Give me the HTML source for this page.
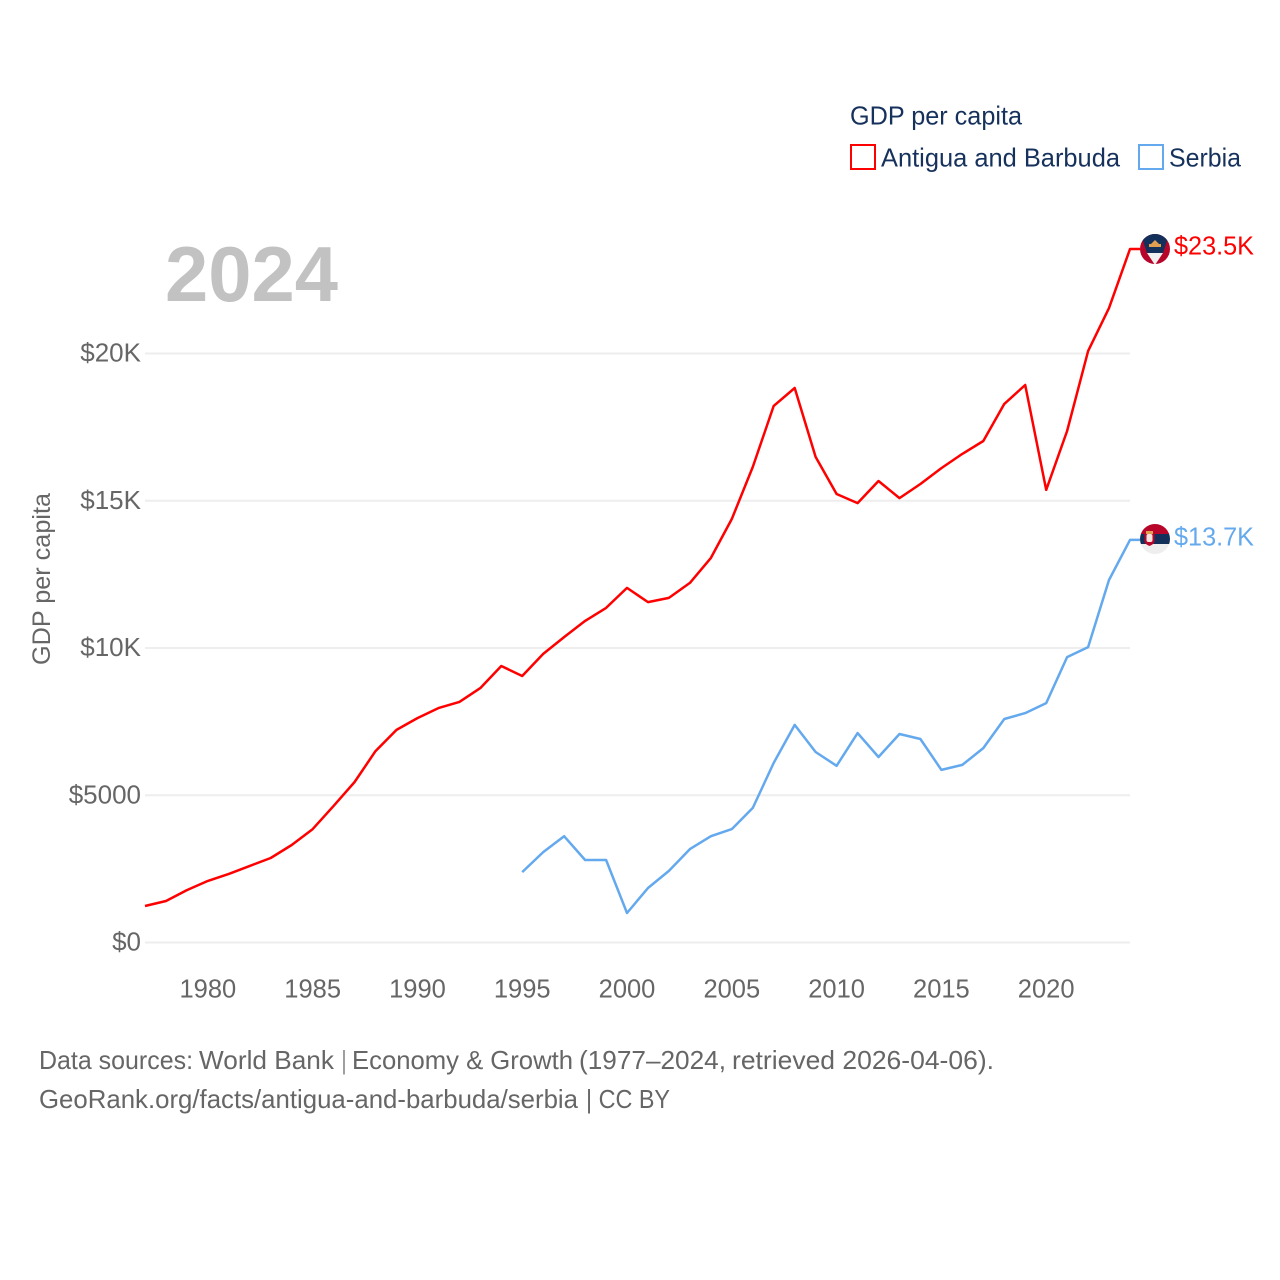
<!DOCTYPE html>
<html lang="en">
<head>
<meta charset="utf-8">
<title>GDP per capita: Antigua and Barbuda vs Serbia</title>
<style>
html,body{margin:0;padding:0;background:#fff;}
svg{display:block;font-family:"Liberation Sans",sans-serif;}
</style>
</head>
<body>
<svg id="chart" width="1280" height="1280" viewBox="0 0 1280 1280" xmlns="http://www.w3.org/2000/svg">
  <defs>
    <clipPath id="flag-clip-a"><circle cx="1155" cy="249" r="15"/></clipPath>
    <clipPath id="flag-clip-b"><circle cx="1155" cy="539" r="15"/></clipPath>
  </defs>
  <g id="grid"></g>
  <g id="yticks"></g>
  <g id="xticks"></g>
  <g id="series"></g>

  <text x="165" y="301" font-size="78" font-weight="700" fill="#c2c2c2" textLength="173" lengthAdjust="spacingAndGlyphs">2024</text>
  <text transform="translate(50,665) rotate(-90)" font-size="25" fill="#666666" textLength="172" lengthAdjust="spacingAndGlyphs">GDP per capita</text>

  <g>
    <text x="850" y="124.500" font-size="26" fill="#16325c" textLength="172" lengthAdjust="spacingAndGlyphs">GDP per capita</text>
    <rect x="851" y="145" width="24" height="24" fill="none" stroke="#ff0000" stroke-width="2"/>
    <text x="881" y="166.500" font-size="26" fill="#16325c" textLength="239" lengthAdjust="spacingAndGlyphs">Antigua and Barbuda</text>
    <rect x="1139" y="145" width="24" height="24" fill="none" stroke="#64a9ee" stroke-width="2"/>
    <text x="1169" y="166.500" font-size="26" fill="#16325c" textLength="72" lengthAdjust="spacingAndGlyphs">Serbia</text>
  </g>

  <g clip-path="url(#flag-clip-a)">
    <rect x="1140" y="234" width="30" height="30" fill="#b8062a"/>
    <polygon points="1140,232 1170,232 1163,253 1147,253" fill="#12305a"/>
    <polygon points="1147,253 1163,253 1155,265" fill="#f0f0f0"/>
    <rect x="1149" y="244" width="12" height="3" fill="#e0a050"/>
    <polygon points="1151,244 1155,240 1159,244" fill="#e0a050"/>
  </g>
  <g clip-path="url(#flag-clip-b)">
    <rect x="1140" y="524" width="30" height="10" fill="#b8062a"/>
    <rect x="1140" y="534" width="30" height="10" fill="#12305a"/>
    <rect x="1140" y="544" width="30" height="10" fill="#eeeeee"/>
    <path d="M1144.500,534 h10 v7 q0,3 -5,5 q-5,-2 -5,-5 z" fill="#b8062a"/>
    <rect x="1146.500" y="534" width="6" height="8" rx="2" fill="#f3e6df"/>
    <rect x="1146" y="531" width="7" height="3" fill="#e0a050"/>
  </g>

  <text x="1174" y="254.500" font-size="26" fill="#ff0000" textLength="80" lengthAdjust="spacingAndGlyphs">$23.5K</text>
  <text x="1174" y="545.500" font-size="26" fill="#64a9ee" textLength="80" lengthAdjust="spacingAndGlyphs">$13.7K</text>

  <text y="1069" font-size="26" fill="#666666"><tspan x="39" textLength="154" lengthAdjust="spacingAndGlyphs">Data sources:</tspan> <tspan x="199" textLength="135" lengthAdjust="spacingAndGlyphs">World Bank</tspan> <tspan x="342" textLength="4" lengthAdjust="spacingAndGlyphs">|</tspan> <tspan x="352" textLength="221" lengthAdjust="spacingAndGlyphs">Economy &amp; Growth</tspan> <tspan x="579" textLength="147" lengthAdjust="spacingAndGlyphs">(1977–2024,</tspan> <tspan x="732" textLength="262" lengthAdjust="spacingAndGlyphs">retrieved 2026-04-06).</tspan></text>
  <text y="1108" font-size="26" fill="#666666"><tspan x="39" textLength="539" lengthAdjust="spacingAndGlyphs">GeoRank.org/facts/antigua-and-barbuda/serbia</tspan> <tspan x="586" textLength="84" lengthAdjust="spacingAndGlyphs">| CC BY</tspan></text>
</svg>
<script>
const yTickValues = [0, 5000, 10000, 15000, 20000];
const yTickLabels = ["$0", "$5000", "$10K", "$15K", "$20K"];
const xTickYears = [1980, 1985, 1990, 1995, 2000, 2005, 2010, 2015, 2020];
const antiguaStartYear = 1977;
const antiguaValues = [1240, 1410, 1780, 2090, 2330, 2600, 2870, 3310, 3850, 4640, 5450, 6500, 7220, 7620, 7960, 8170, 8640, 9390, 9050, 9800, 10370, 10920, 11360, 12040, 11560, 11700, 12210, 13060, 14380, 16150, 18220, 18830, 16490, 15230, 14920, 15670, 15090, 15570, 16110, 16590, 17030, 18290, 18930, 15370, 17370, 20080, 21540, 23550];
const serbiaStartYear = 1995;
const serbiaValues = [2390, 3070, 3610, 2800, 2800, 1000, 1850, 2430, 3170, 3610, 3850, 4570, 6100, 7390, 6470, 6000, 7110, 6300, 7080, 6910, 5860, 6030, 6600, 7590, 7790, 8130, 9690, 10030, 12310, 13670];

const NS = 'http://www.w3.org/2000/svg';
function xScale(year) { return 145 + (year - 1977) * (1130 - 145) / 47; }
function yScale(value) { return 942.5 - value * 0.02945; }

function make(tag, attrs, parent, text) {
  const el = document.createElementNS(NS, tag);
  Object.keys(attrs).forEach(function (k) { el.setAttribute(k, attrs[k]); });
  if (text !== undefined) el.textContent = text;
  parent.appendChild(el);
  return el;
}

const gridG = document.getElementById('grid');
const yG = document.getElementById('yticks');
const xG = document.getElementById('xticks');
const seriesG = document.getElementById('series');

yTickValues.forEach(function (v, i) {
  const line = make('line', { x1: 145, x2: 1130, y1: yScale(v), y2: yScale(v), stroke: '#eeeeee', 'stroke-width': 2 }, gridG);
  
  
  const label = make('text', { x: 141, y: yScale(v) + 8, 'text-anchor': 'end', 'font-size': 26, fill: '#666666' }, yG, yTickLabels[i]);
  
  
});

xTickYears.forEach(function (year) {
  const label = make('text', { x: xScale(year), y: 997.5, 'text-anchor': 'middle', 'font-size': 25.5, fill: '#666666' }, xG, String(year));
  
  
});

function linePoints(startYear, values) {
  const pts = values.map(function (v, i) {
    return xScale(startYear + i).toFixed(1) + ',' + yScale(v).toFixed(1);
  });
  const lastY = yScale(values[values.length - 1]).toFixed(1);
  pts.push('1140,' + lastY);
  return pts.join(' ');
}

const redLine = make('polyline', { points: linePoints(antiguaStartYear, antiguaValues), fill: 'none', stroke: '#ff0000', 'stroke-width': 2.5, 'stroke-linejoin': 'round' }, seriesG);



const blueLine = make('polyline', { points: linePoints(serbiaStartYear, serbiaValues), fill: 'none', stroke: '#64a9ee', 'stroke-width': 2.5, 'stroke-linejoin': 'round' }, seriesG);


</script>
</body>
</html>
